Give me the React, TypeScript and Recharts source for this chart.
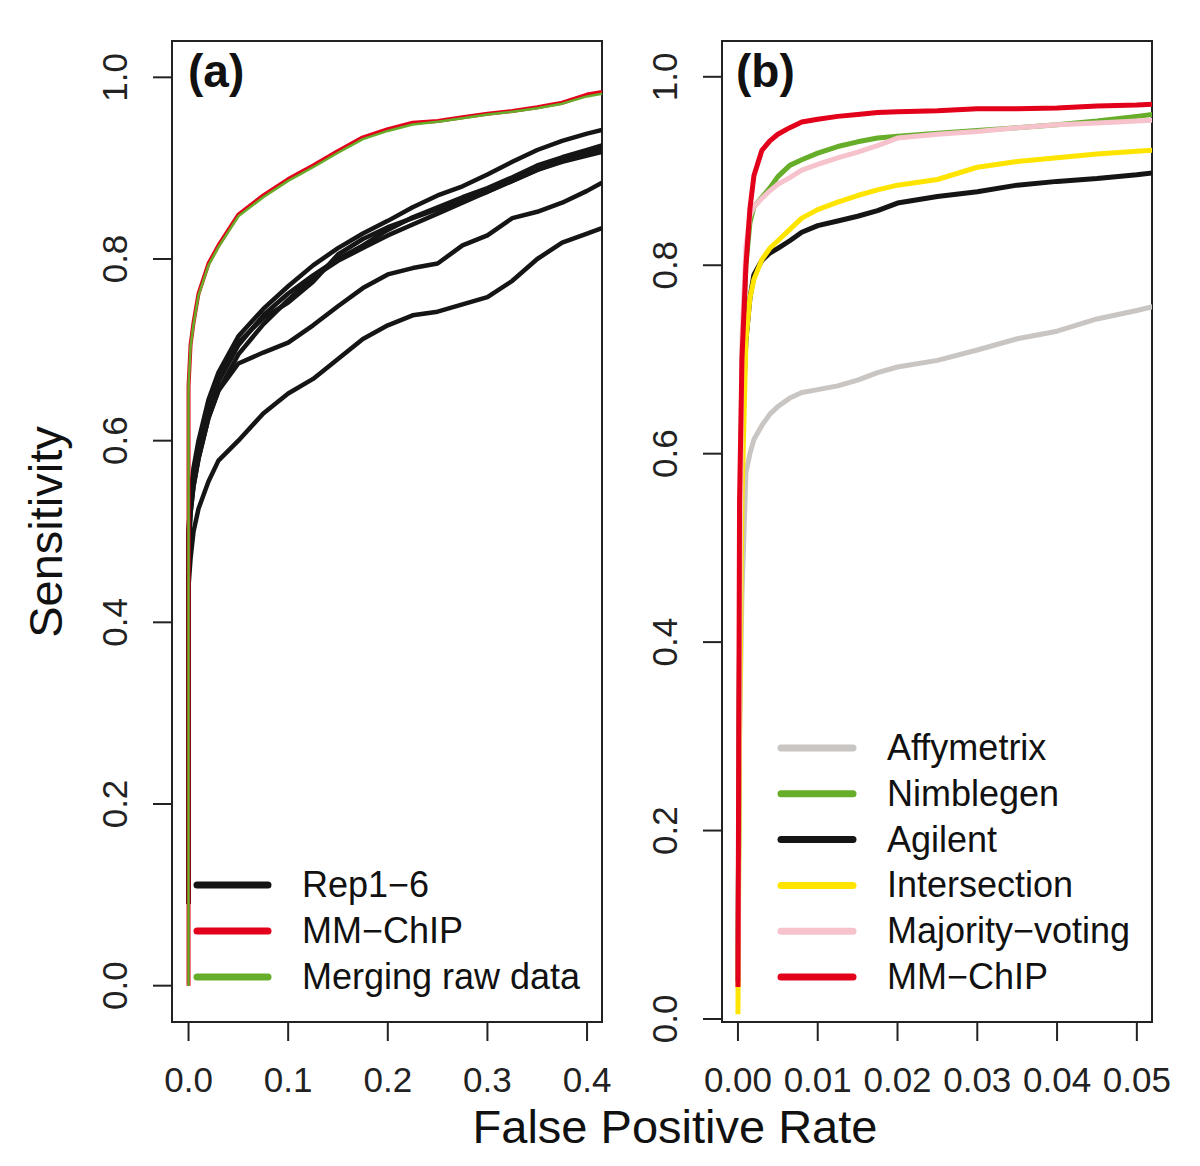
import { LineChart, Line, XAxis, YAxis, ReferenceArea } from "recharts";

// panel (a): replicates vs MM-ChIP vs merged raw data
const fprA = [0, 0, 0.002, 0.005, 0.01, 0.02, 0.03, 0.05, 0.075, 0.1, 0.125, 0.15, 0.175, 0.2, 0.225, 0.25, 0.275, 0.3, 0.325, 0.35, 0.375, 0.4, 0.415];
const rep1 = [0.09, 0.5, 0.54, 0.57, 0.6, 0.645, 0.675, 0.715, 0.745, 0.77, 0.793, 0.812, 0.828, 0.842, 0.857, 0.87, 0.88, 0.893, 0.907, 0.92, 0.93, 0.938, 0.942];
const rep2 = [0.09, 0.49, 0.53, 0.56, 0.59, 0.635, 0.665, 0.705, 0.738, 0.762, 0.782, 0.8, 0.815, 0.832, 0.846, 0.857, 0.868, 0.878, 0.89, 0.903, 0.912, 0.92, 0.925];
const rep3 = [0.09, 0.5, 0.535, 0.565, 0.595, 0.64, 0.668, 0.708, 0.735, 0.752, 0.775, 0.805, 0.822, 0.835, 0.845, 0.855, 0.864, 0.874, 0.886, 0.898, 0.908, 0.917, 0.921];
const rep4 = [0.09, 0.48, 0.52, 0.55, 0.58, 0.625, 0.655, 0.695, 0.728, 0.755, 0.78, 0.798, 0.812, 0.826, 0.838, 0.85, 0.862, 0.874, 0.886, 0.898, 0.907, 0.914, 0.918];
const rep5 = [0.09, 0.48, 0.52, 0.55, 0.58, 0.625, 0.655, 0.685, 0.697, 0.708, 0.727, 0.748, 0.768, 0.783, 0.79, 0.795, 0.815, 0.826, 0.845, 0.852, 0.862, 0.875, 0.884];
const rep6 = [0.09, 0.44, 0.47, 0.5, 0.525, 0.555, 0.578, 0.6, 0.63, 0.652, 0.668, 0.69, 0.712, 0.727, 0.738, 0.742, 0.75, 0.758, 0.776, 0.8, 0.818, 0.828, 0.834];
const mmchipA = [0, 0.66, 0.705, 0.73, 0.762, 0.795, 0.815, 0.849, 0.87, 0.888, 0.903, 0.919, 0.934, 0.943, 0.95, 0.952, 0.956, 0.96, 0.963, 0.967, 0.972, 0.981, 0.984];
const mergedA = [0, 0.66, 0.703, 0.728, 0.76, 0.793, 0.813, 0.847, 0.868, 0.886, 0.901, 0.917, 0.932, 0.941, 0.948, 0.951, 0.955, 0.959, 0.962, 0.966, 0.971, 0.979, 0.982];

// panel (b): platforms vs combination methods
const fprB = [0, 0.0002, 0.0005, 0.001, 0.0015, 0.002, 0.003, 0.004, 0.005, 0.0065, 0.008, 0.01, 0.0125, 0.015, 0.0175, 0.02, 0.025, 0.03, 0.035, 0.04, 0.045, 0.05, 0.052];
const affymetrix = [0.04, 0.3, 0.45, 0.58, 0.6, 0.615, 0.63, 0.642, 0.65, 0.659, 0.665, 0.668, 0.672, 0.678, 0.686, 0.692, 0.699, 0.71, 0.722, 0.73, 0.743, 0.752, 0.756];
const nimblegen = [0.04, 0.4, 0.7, 0.8, 0.845, 0.862, 0.872, 0.882, 0.894, 0.906, 0.912, 0.919, 0.926, 0.931, 0.935, 0.937, 0.94, 0.943, 0.946, 0.949, 0.953, 0.958, 0.96];
const agilent = [0.04, 0.4, 0.62, 0.72, 0.765, 0.79, 0.805, 0.813, 0.818, 0.826, 0.835, 0.842, 0.847, 0.852, 0.858, 0.866, 0.873, 0.878, 0.885, 0.889, 0.892, 0.896, 0.898];
const intersection = [0.005, 0.3, 0.55, 0.72, 0.765, 0.785, 0.806, 0.818, 0.826, 0.838, 0.85, 0.859, 0.867, 0.874, 0.88, 0.885, 0.891, 0.904, 0.91, 0.914, 0.918, 0.921, 0.922];
const majority = [0.04, 0.4, 0.72, 0.82, 0.852, 0.862, 0.871, 0.879, 0.886, 0.893, 0.901, 0.907, 0.914, 0.92, 0.927, 0.935, 0.939, 0.942, 0.946, 0.949, 0.951, 0.953, 0.954];
const mmchipB = [0.034, 0.55, 0.7, 0.8, 0.86, 0.895, 0.922, 0.932, 0.939, 0.946, 0.952, 0.955, 0.958, 0.96, 0.962, 0.963, 0.964, 0.966, 0.966, 0.967, 0.969, 0.97, 0.971];

const xTicksA = [0, 0.1, 0.2, 0.3, 0.4];
const xTickLabelsA = ["0.0", "0.1", "0.2", "0.3", "0.4"];
const xTicksB = [0, 0.01, 0.02, 0.03, 0.04, 0.05];
const xTickLabelsB = ["0.00", "0.01", "0.02", "0.03", "0.04", "0.05"];
const yTicks = [0, 0.2, 0.4, 0.6, 0.8, 1.0];
const yTickLabels = ["0.0", "0.2", "0.4", "0.6", "0.8", "1.0"];

const legendA = [
  { name: "Rep1\u22126", color: "#151515" },
  { name: "MM\u2212ChIP", color: "#E2001A" },
  { name: "Merging raw data", color: "#66AD2A" },
];
const legendB = [
  { name: "Affymetrix", color: "#C9C5C3" },
  { name: "Nimblegen", color: "#66AD2A" },
  { name: "Agilent", color: "#151515" },
  { name: "Intersection", color: "#FFE400" },
  { name: "Majority\u2212voting", color: "#F6C3CD" },
  { name: "MM\u2212ChIP", color: "#E2001A" },
];

const font = '"Liberation Sans", Arial, Helvetica, sans-serif';
const ink = "#222";

const rowsA = fprA.map((fpr, i) => ({
  fpr,
  rep1: rep1[i],
  rep2: rep2[i],
  rep3: rep3[i],
  rep4: rep4[i],
  rep5: rep5[i],
  rep6: rep6[i],
  mmchip: mmchipA[i],
  merged: mergedA[i],
}));

const rowsB = fprB.map((fpr, i) => ({
  fpr,
  affymetrix: affymetrix[i],
  nimblegen: nimblegen[i],
  agilent: agilent[i],
  intersection: intersection[i],
  majority: majority[i],
  mmchip: mmchipB[i],
}));

function makeXTick(ticks: number[], labels: string[]) {
  return (props: any) => {
    const { x, y, payload } = props;
    const idx = ticks.indexOf(payload.value);
    return (
      <text x={x} y={y + 43} textAnchor="middle" fontSize={35} fontFamily={font} fill={ink}>
        {labels[idx]}
      </text>
    );
  };
}

const YTick = (props: any) => {
  const { x, y, payload } = props;
  const idx = yTicks.indexOf(payload.value);
  return (
    <text
      x={x}
      y={y}
      transform={`rotate(-90 ${x} ${y})`}
      textAnchor="middle"
      fontSize={35}
      fontFamily={font}
      fill={ink}
    >
      {yTickLabels[idx]}
    </text>
  );
};

const XTickA = makeXTick(xTicksA, xTickLabelsA);
const XTickB = makeXTick(xTicksB, xTickLabelsB);

function Legend({ items, x1, x2, textX, y0, gap }: any) {
  return (
    <g>
      {items.map((it: any, i: number) => {
        const y = y0 + i * gap;
        return (
          <g key={it.name}>
            <line x1={x1} x2={x2} y1={y} y2={y} stroke={it.color} strokeWidth={7} strokeLinecap="round" />
            <text x={textX} y={y + 12} fontSize={36} fontFamily={font} fill="#111">
              {it.name}
            </text>
          </g>
        );
      })}
    </g>
  );
}

export default function App() {
  const repKeys = ["rep1", "rep2", "rep3", "rep4", "rep5", "rep6"];
  return (
    <div style={{ position: "absolute", left: 0, top: 0, width: 1200, height: 1166, background: "#fff" }}>
      <div style={{ position: "absolute", left: 0, top: 0 }}>
        <LineChart width={640} height={1166} data={rowsA} margin={{ top: 41, right: 38, bottom: 0, left: 0 }}>
          <XAxis
            dataKey="fpr"
            type="number"
            domain={[-0.0166, 0.415]}
            ticks={xTicksA}
            interval={0}
            allowDataOverflow
            axisLine={false}
            tickSize={19}
            tickMargin={8}
            tickLine={{ stroke: ink, strokeWidth: 2 }}
            tick={XTickA}
            height={144}
          />
          <YAxis
            type="number"
            domain={[-0.04, 1.04]}
            ticks={yTicks}
            interval={0}
            allowDataOverflow
            axisLine={false}
            tickSize={19}
            tickMargin={26}
            tickLine={{ stroke: ink, strokeWidth: 2 }}
            tick={YTick}
            width={172}
          />
          <ReferenceArea x1={-0.0166} x2={0.415} y1={-0.04} y2={1.04} fill="none" stroke={ink} strokeWidth={2} ifOverflow="visible" />
          {repKeys.map((k) => (
            <Line key={k} dataKey={k} type="linear" stroke="#151515" strokeWidth={4.5} dot={false} strokeLinejoin="round" isAnimationActive={false} />
          ))}
          <Line dataKey="mmchip" type="linear" stroke="#E2001A" strokeWidth={4} dot={false} strokeLinejoin="round" isAnimationActive={false} />
          <Line dataKey="merged" type="linear" stroke="#66AD2A" strokeWidth={2.5} dot={false} strokeLinejoin="round" isAnimationActive={false} />
        </LineChart>
      </div>
      <div style={{ position: "absolute", left: 600, top: 0 }}>
        <LineChart width={600} height={1166} data={rowsB} margin={{ top: 41, right: 48, bottom: 0, left: 0 }}>
          <XAxis
            dataKey="fpr"
            type="number"
            domain={[-0.002, 0.0519]}
            ticks={xTicksB}
            interval={0}
            allowDataOverflow
            axisLine={false}
            tickSize={19}
            tickMargin={8}
            tickLine={{ stroke: ink, strokeWidth: 2 }}
            tick={XTickB}
            height={144}
          />
          <YAxis
            type="number"
            domain={[-0.0032, 1.038]}
            ticks={yTicks}
            interval={0}
            allowDataOverflow
            axisLine={false}
            tickSize={19}
            tickMargin={26}
            tickLine={{ stroke: ink, strokeWidth: 2 }}
            tick={YTick}
            width={122}
          />
          <ReferenceArea x1={-0.002} x2={0.0519} y1={-0.0032} y2={1.038} fill="none" stroke={ink} strokeWidth={2} ifOverflow="visible" />
          <Line dataKey="affymetrix" type="linear" stroke="#C9C5C3" strokeWidth={5} dot={false} strokeLinejoin="round" isAnimationActive={false} />
          <Line dataKey="nimblegen" type="linear" stroke="#66AD2A" strokeWidth={5} dot={false} strokeLinejoin="round" isAnimationActive={false} />
          <Line dataKey="agilent" type="linear" stroke="#151515" strokeWidth={5} dot={false} strokeLinejoin="round" isAnimationActive={false} />
          <Line dataKey="intersection" type="linear" stroke="#FFE400" strokeWidth={5} dot={false} strokeLinejoin="round" isAnimationActive={false} />
          <Line dataKey="majority" type="linear" stroke="#F6C3CD" strokeWidth={5} dot={false} strokeLinejoin="round" isAnimationActive={false} />
          <Line dataKey="mmchip" type="linear" stroke="#E2001A" strokeWidth={5} dot={false} strokeLinejoin="round" isAnimationActive={false} />
        </LineChart>
      </div>
      <svg width={1200} height={1166} style={{ position: "absolute", left: 0, top: 0, pointerEvents: "none" }}>
        <text x={188} y={87} fontSize={46} fontWeight="bold" fontFamily={font} fill="#111">(a)</text>
        <text x={736} y={87} fontSize={46} fontWeight="bold" fontFamily={font} fill="#111">(b)</text>
        <text x={675} y={1143} textAnchor="middle" fontSize={47} fontFamily={font} fill="#111">False Positive Rate</text>
        <text x={62} y={532} transform="rotate(-90 62 532)" textAnchor="middle" fontSize={47} fontFamily={font} fill="#111">Sensitivity</text>
        <Legend items={legendA} x1={197} x2={268} textX={302} y0={885} gap={46} />
        <Legend items={legendB} x1={781} x2={853} textX={887} y0={748} gap={45.8} />
      </svg>
    </div>
  );
}
